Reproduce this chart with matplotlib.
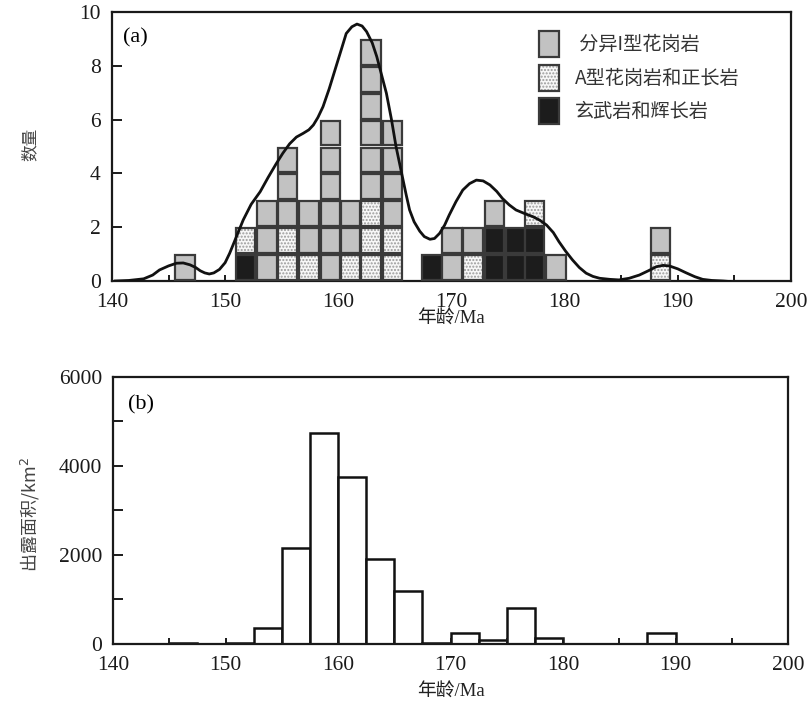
import matplotlib
matplotlib.use('Agg')
from matplotlib import pyplot as plt
from matplotlib.patches import Patch, Rectangle
from matplotlib.legend_handler import HandlerTuple

# (a) age columns, counts stacked bottom->top: basalt, A-type, I-type
col_age = [146.45, 151.8, 153.7, 155.5, 157.4, 159.3, 161.1, 162.9, 164.8,
           168.3, 170.05, 171.9, 173.8, 175.65, 177.35, 179.25, 188.45]
basalt = [0, 1, 0, 0, 0, 0, 0, 0, 0, 1, 0, 0, 2, 2, 2, 0, 0]
a_type = [0, 1, 0, 2, 1, 0, 1, 3, 2, 0, 0, 1, 0, 0, 1, 0, 1]
i_type = [1, 0, 3, 3, 2, 6, 2, 6, 4, 0, 2, 1, 1, 0, 0, 1, 1]

# density curve
curve_x = [140.3, 141.5, 142.8, 143.6, 144.2, 145.0, 145.7, 146.3, 146.9, 147.4,
           147.8, 148.2, 148.6, 149.0, 149.5, 150.0, 150.4, 151.0, 151.6, 152.3,
           153.1, 153.8, 154.5, 155.1, 155.7, 156.3, 156.9, 157.4, 157.8, 158.2,
           158.65, 159.2, 159.8, 160.3, 160.7, 161.2, 161.65, 162.1, 162.5, 163.0,
           163.4, 163.8, 164.25, 164.7, 165.1, 165.4, 165.7, 166.0, 166.3, 166.7,
           167.2, 167.6, 168.1, 168.5, 168.95, 169.4, 169.8, 170.4, 171.0, 171.6,
           172.2, 172.8, 173.4, 174.0, 174.5, 175.1, 175.7, 176.5, 177.2, 177.8,
           178.4, 179.0, 179.5, 180.1, 180.7, 181.3, 181.9, 182.5, 183.1, 184.0,
           184.8, 185.7, 186.6, 187.4, 188.1, 188.7, 189.25, 190.0, 190.7, 191.5,
           192.2, 193.0, 194.0, 194.6]
curve_y = [0.0, 0.02, 0.08, 0.22, 0.41, 0.56, 0.66, 0.67, 0.6, 0.5,
           0.38, 0.3, 0.26, 0.3, 0.43, 0.68, 1.03, 1.65, 2.27, 2.85,
           3.32, 3.85, 4.35, 4.75, 5.1, 5.35, 5.49, 5.62, 5.8, 6.08,
           6.48, 7.15, 7.97, 8.65, 9.2, 9.45, 9.55, 9.48, 9.27, 8.85,
           8.34, 7.7, 6.98, 6.0, 5.0, 4.4, 3.8, 3.2, 2.64, 2.2,
           1.85, 1.65, 1.55, 1.58, 1.77, 2.08, 2.45, 2.95, 3.38, 3.62,
           3.75, 3.72, 3.57, 3.33, 3.07, 2.83, 2.64, 2.5, 2.39, 2.26,
           2.08, 1.8, 1.46, 1.1, 0.78, 0.5, 0.29, 0.17, 0.1, 0.06,
           0.04, 0.1, 0.22, 0.38, 0.53, 0.58, 0.56, 0.45, 0.31, 0.16,
           0.06, 0.02, 0.0, -0.02]

# (b) outcrop area per 2.5 Ma bin
bin_left = [145, 147.5, 150, 152.5, 155, 157.5, 160, 162.5, 165, 167.5,
            170, 172.5, 175, 177.5, 180, 182.5, 185, 187.5]
area = [30, 0, 12, 350, 2150, 4750, 3750, 1900, 1200, 30,
        250, 80, 800, 130, 0, 0, 0, 250]

plt.rcParams['font.family'] = ['Liberation Serif', 'Noto Sans CJK SC']
cjk = ['Noto Sans CJK SC', 'DejaVu Sans']

fig = plt.figure(figsize=(8.09, 7.09), dpi=100)
ax1 = fig.add_axes([0.1384, 0.6037, 0.8393, 0.3794])
ax2 = fig.add_axes([0.1397, 0.0917, 0.8344, 0.3766])

gray = '#c2c2c2'
edge = '#3a3a3a'
dark = '#1c1c1c'
w = 1.72

# stacked unit boxes
for x, nb, na, ni in zip(col_age, basalt, a_type, i_type):
    kinds = ['b'] * nb + ['a'] * na + ['i'] * ni
    for lvl, k in enumerate(kinds):
        y0 = lvl + 0.04
        if k == 'a':
            ax1.add_patch(Rectangle((x - w / 2, y0), w, 0.92, facecolor='#f7f7f7',
                                    edgecolor='#9a9a9a', hatch='.....', lw=0, zorder=2))
            ax1.add_patch(Rectangle((x - w / 2, y0), w, 0.92, fill=False,
                                    edgecolor=edge, lw=1.6, zorder=3))
        else:
            fc = dark if k == 'b' else gray
            ax1.add_patch(Rectangle((x - w / 2, y0), w, 0.92, facecolor=fc,
                                    edgecolor=edge, lw=1.6, zorder=3))

ax1.plot(curve_x, curve_y, color='#111111', lw=2.0, solid_joinstyle='round', zorder=4)

ax1.set_xlim(140, 200)
ax1.set_ylim(0, 10)
ax1.set_xticks(range(140, 201, 10))
ax1.set_xticks(range(145, 200, 10), minor=True)
ax1.set_yticks(range(0, 11, 2))

h_i = Patch(facecolor=gray, edgecolor=edge, lw=1.6)
h_a = (Patch(facecolor='#f7f7f7', edgecolor='#9a9a9a', hatch='.....', lw=0),
       Patch(fill=False, edgecolor=edge, lw=1.6))
h_b = Patch(facecolor=dark, edgecolor=edge, lw=1.6)
leg = ax1.legend([h_i, h_a, h_b], [' 分异I型花岗岩', 'A型花岗岩和正长岩', '玄武岩和辉长岩'],
                 handler_map={tuple: HandlerTuple(ndivide=1, pad=0)},
                 loc='upper left', bbox_to_anchor=(0.603, 0.993), frameon=False,
                 handlelength=1.05, handleheight=1.7, handletextpad=0.85,
                 labelspacing=0.4, prop={'family': cjk, 'size': 13.8})
for t in leg.get_texts():
    t.set_color('#333333')

ax1.text(0.016, 0.905, '(a)', transform=ax1.transAxes, fontsize=16, va='center')
ax1.set_xlabel('年龄/Ma', fontsize=13.5, color='#222222')
ax1.xaxis.set_label_coords(0.5, -0.11)
ax1.set_ylabel('数量', family=cjk, fontsize=12, color='#444444', va='center')
ax1.yaxis.set_label_coords(-0.121, 0.506)

# (b)
ax2.bar(bin_left, area, width=2.5, align='edge', facecolor='white',
        edgecolor='#111111', lw=1.8)
ax2.set_xlim(140, 200)
ax2.set_ylim(0, 6000)
ax2.set_xticks(range(140, 201, 10))
ax2.set_xticks(range(145, 200, 10), minor=True)
ax2.set_yticks(range(0, 6001, 2000))
ax2.set_yticks(range(1000, 6000, 2000), minor=True)
ax2.text(0.022, 0.895, '(b)', transform=ax2.transAxes, fontsize=16, va='center')
ax2.set_xlabel('年龄/Ma', fontsize=13.5, color='#222222')
ax2.xaxis.set_label_coords(0.5, -0.147)
ax2.set_ylabel('出露面积/km$^2$', family=cjk, fontsize=13, color='#444444', va='center')
ax2.yaxis.set_label_coords(-0.123, 0.483)

for ax in (ax1, ax2):
    for s in ax.spines.values():
        s.set_linewidth(1.6)
        s.set_color('#1a1a1a')
    ax.tick_params(axis='both', which='both', direction='in', width=1.4,
                   labelsize=15.5, colors='#1a1a1a')
    ax.tick_params(axis='x', which='both', length=4, pad=9)
    ax.tick_params(axis='y', which='both', length=7, pad=8)

fig.savefig('out.png', dpi=100)
